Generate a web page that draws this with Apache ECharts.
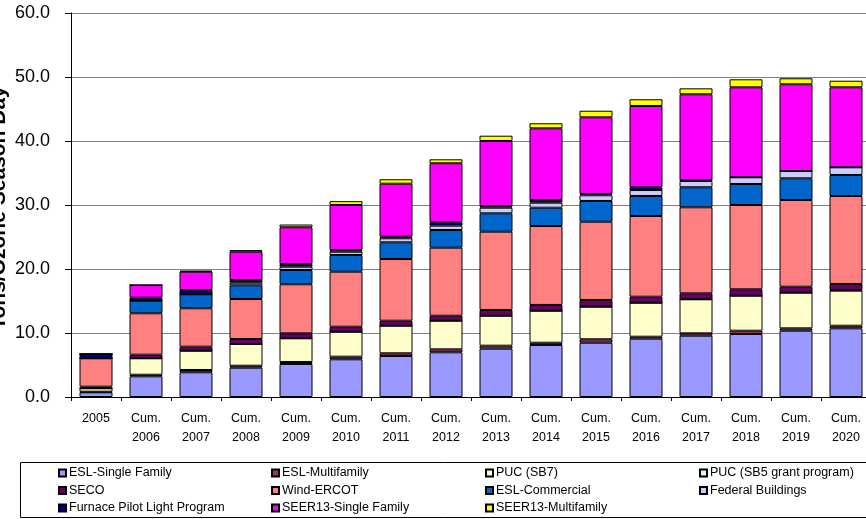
<!DOCTYPE html>
<html>
<head>
<meta charset="utf-8">
<script src="https://cdn.jsdelivr.net/npm/echarts@6/dist/echarts.min.js"></script>
<style>
  html, body { margin: 0; padding: 0; background: #ffffff; }
  #chart { width: 866px; height: 519px; }
</style>
</head>
<body>
<div id="chart"></div>
<script>
// Ozone-season NOx reductions by program, stacked per year (tons per day)
const years = ['2005', '2006', '2007', '2008', '2009', '2010', '2011', '2012',
               '2013', '2014', '2015', '2016', '2017', '2018', '2019', '2020'];

const eslSingleFamily  = [0.73, 3.23, 3.86, 4.58, 5.16, 5.89, 6.41, 6.98, 7.55, 8.13, 8.48, 9.11, 9.58, 9.84, 10.36, 10.73];
const eslMultifamily   = [0.10, 0.25, 0.36, 0.31, 0.31, 0.41, 0.42, 0.47, 0.47, 0.35, 0.54, 0.31, 0.37, 0.52, 0.37, 0.41];
const pucSb7           = [0.53, 2.57, 3.01, 3.39, 3.70, 3.90, 4.31, 4.47, 4.68, 5.00, 5.09, 5.31, 5.32, 5.47, 5.57, 5.47];
const pucSb5           = [0, 0, 0, 0, 0, 0, 0, 0, 0, 0, 0, 0, 0, 0, 0, 0.10];
const seco             = [0.25, 0.56, 0.63, 0.78, 0.78, 0.78, 0.78, 0.78, 0.89, 0.90, 1.05, 0.94, 0.93, 1.00, 0.93, 0.95];
const windErcot        = [4.44, 6.47, 6.00, 6.25, 7.66, 8.60, 9.64, 10.63, 12.24, 12.34, 12.23, 12.61, 13.44, 13.17, 13.55, 13.75];
const eslCommercial    = [0, 1.97, 2.19, 2.14, 2.23, 2.61, 2.61, 2.76, 2.87, 2.86, 3.24, 3.13, 3.13, 3.28, 3.39, 3.28];
const federalBuildings = [0, 0, 0, 0.41, 0.52, 0.51, 0.63, 0.68, 0.88, 0.78, 0.89, 0.93, 0.98, 1.05, 1.14, 1.20];
const furnacePilot     = [0.67, 0.47, 0.67, 0.42, 0.42, 0.27, 0.25, 0.53, 0.26, 0.42, 0.20, 0.43, 0.10, 0, 0, 0];
const seer13Single     = [0, 1.98, 2.86, 4.42, 5.74, 7.03, 8.28, 9.22, 10.16, 11.20, 11.98, 12.70, 13.45, 14.06, 13.55, 12.50];
const seer13Multi      = [0, 0, 0.15, 0.25, 0.43, 0.60, 0.69, 0.62, 0.83, 0.79, 1.03, 1.05, 0.93, 1.25, 0.94, 1.03];

const yTicks = [0, 10, 20, 30, 40, 50, 60];

// first year is a single-year value, the rest are cumulative
const categories = years.map((y, i) => (i === 0 ? y : 'Cum.\n' + y));

const seriesDefs = [
  { name: 'ESL-Single Family',            data: eslSingleFamily,  color: '#9999FF' },
  { name: 'ESL-Multifamily',              data: eslMultifamily,   color: '#993366' },
  { name: 'PUC (SB7)',                    data: pucSb7,           color: '#FFFFCC' },
  { name: 'PUC (SB5 grant program)',      data: pucSb5,           color: '#CCFFFF' },
  { name: 'SECO',                         data: seco,             color: '#660066' },
  { name: 'Wind-ERCOT',                   data: windErcot,        color: '#FF8080' },
  { name: 'ESL-Commercial',               data: eslCommercial,    color: '#0066CC' },
  { name: 'Federal Buildings',            data: federalBuildings, color: '#CCCCFF' },
  { name: 'Furnace Pilot Light Program',  data: furnacePilot,     color: '#000080' },
  { name: 'SEER13-Single Family',         data: seer13Single,     color: '#FF00FF' },
  { name: 'SEER13-Multifamily',           data: seer13Multi,      color: '#FFFF00' }
];

const font = "'Liberation Sans', Arial, sans-serif";

// legend laid out in four columns, three rows
const legendColumns = [
  ['ESL-Single Family', 'SECO', 'Furnace Pilot Light Program'],
  ['ESL-Multifamily', 'Wind-ERCOT', 'SEER13-Single Family'],
  ['PUC (SB7)', 'ESL-Commercial', 'SEER13-Multifamily'],
  ['PUC (SB5 grant program)', 'Federal Buildings']
];
const legendLefts = [58, 271, 485, 699];

const chart = echarts.init(document.getElementById('chart'), null, { renderer: 'canvas' });

chart.setOption({
  animation: false,
  backgroundColor: '#ffffff',
  grid: { left: 71, top: 13, width: 800, height: 384, containLabel: false, outerBoundsMode: 'none' },
  xAxis: {
    type: 'category',
    data: categories,
    axisLine: { lineStyle: { color: '#000000', width: 1 } },
    axisTick: { show: true, length: 4, lineStyle: { color: '#000000' } },
    axisLabel: {
      color: '#000000', fontFamily: font, fontSize: 12.5, lineHeight: 19,
      margin: 12, interval: 0
    }
  },
  yAxis: {
    type: 'value',
    min: 0, max: 60, interval: 10,
    name: 'Tons/Ozone Season Day',
    nameLocation: 'middle',
    nameRotate: 90,
    nameGap: 61,
    nameMoveOverlap: false,
    nameTextStyle: { color: '#000000', fontFamily: font, fontWeight: 'bold', fontSize: 21, padding: [0, 6, 0, 0] },
    axisLine: { show: true, lineStyle: { color: '#000000', width: 1 } },
    axisTick: { show: true, length: 6, lineStyle: { color: '#000000' } },
    splitLine: { show: true, lineStyle: { color: '#808080', width: 1 } },
    axisLabel: {
      color: '#000000', fontFamily: font, fontSize: 18, margin: 21,
      formatter: v => (yTicks.includes(v) ? v.toFixed(1) : '')
    }
  },
  legend: legendColumns.map((col, i) => ({
    orient: 'vertical',
    left: legendLefts[i],
    top: 466,
    padding: 0,
    itemWidth: 7,
    itemHeight: 7,
    itemGap: 3.5,
    icon: 'rect',
    selectedMode: false,
    data: col,
    textStyle: { color: '#000000', fontFamily: font, fontSize: 12.5, lineHeight: 14, padding: [0, 0, 0, -2] }
  })),
  graphic: [{
    type: 'rect',
    silent: true,
    shape: { x: 20.5, y: 462.5, width: 870, height: 55 },
    style: { fill: 'none', stroke: '#000000', lineWidth: 1 }
  }],
  series: seriesDefs.map(s => ({
    name: s.name,
    type: 'bar',
    stack: 'total',
    barWidth: 33,
    data: s.data,
    itemStyle: { color: s.color, borderColor: '#000000', borderWidth: 1 },
    emphasis: { disabled: true }
  }))
});
</script>
</body>
</html>
